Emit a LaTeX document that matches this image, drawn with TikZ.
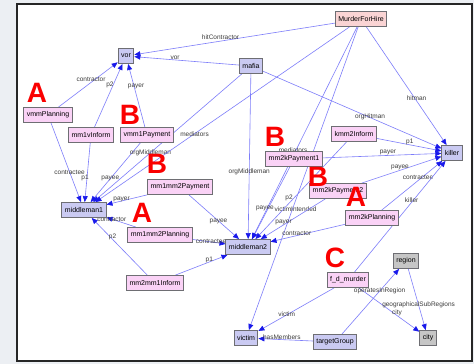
\documentclass[tikz,border=0pt]{standalone}
\usepackage{fontspec}
\setmainfont{Liberation Sans}
\usetikzlibrary{arrows.meta, backgrounds}

\definecolor{clsfill}{RGB}{202,202,242}
\definecolor{instfill}{RGB}{250,210,246}
\definecolor{topfill}{RGB}{250,212,212}
\definecolor{grayfill}{RGB}{198,198,198}
\definecolor{boxline}{RGB}{110,110,115}
\definecolor{edgeblue}{RGB}{125,125,250}
\definecolor{tipblue}{RGB}{25,25,235}
\definecolor{lbltext}{RGB}{60,60,60}
\definecolor{outside}{RGB}{236,239,243}
\definecolor{tagred}{RGB}{250,0,0}

\tikzset{
  box/.style={draw=boxline, line width=0.9pt, font=\fontsize{7}{8}\selectfont,
    minimum height=15pt, inner xsep=3pt, inner ysep=1pt},
  cls/.style={box, fill=clsfill},
  inst/.style={box, fill=instfill},
  topbox/.style={box, fill=topfill},
  grbox/.style={box, fill=grayfill},
  link/.style={draw=edgeblue, line width=0.6pt,
    -{Triangle[length=6pt,width=5pt,color=tipblue]}},
  lbl/.style={font=\fontsize{6.5}{7}\selectfont, text=lbltext, inner sep=0.5pt},
  tagletter/.style={font=\fontsize{28}{28}\selectfont\bfseries, text=tagred, inner sep=0pt}
}

\begin{document}
\begin{tikzpicture}[x=1pt, y=-1pt]
	\useasboundingbox (0,0) rectangle (474,364);
	% classes and instances
	\node[topbox] (MFH) at (361,19) {MurderForHire};
	\node[cls] (vor) at (126,56) {vor};
	\node[cls] (mafia) at (251,66) {mafia};
	\node[inst] (vmmPlan) at (48,115) {vmmPlanning};
	\node[inst] (mm1vInf) at (91,135) {mm1vInform};
	\node[inst] (vmm1Pay) at (147,135) {vmm1Payment};
	\node[cls] (mm1) at (84,210) {middleman1};
	\node[inst] (mm12Pay) at (180,187) {mm1mm2Payment};
	\node[inst] (mm12Plan) at (160,235) {mm1mm2Planning};
	\node[cls] (mm2) at (248,247) {middleman2};
	\node[inst] (mm21Inf) at (155,283) {mm2mm1Inform};
	\node[inst] (kmm2Inf) at (354,134) {kmm2Inform};
	\node[inst] (mm2kPay1) at (294,159) {mm2kPayment1};
	\node[inst] (mm2kPay2) at (338,191) {mm2kPayment2};
	\node[inst] (mm2kPlan) at (372,218) {mm2kPlanning};
	\node[cls] (killer) at (452,153) {killer};
	\node[inst] (fdm) at (348,280) {f\_d\_murder};
	\node[grbox] (region) at (406,261) {region};
	\node[grbox] (city) at (428,338) {city};
	\node[cls] (victim) at (246,338) {victim};
	\node[cls] (tgroup) at (335,342) {targetGroup};
	% frame and properties behind the boxes
	\begin{scope}[on background layer]
		\fill[outside] (0,0) rectangle (474,364);
		\draw[line width=2pt, black!85, fill=white] (17,4) rectangle (472,361);
		\foreach \a/\b/\l/\p/\xs/\ys in {
			MFH/vor/hitContractor/.57/0/4, mafia/vor/vor/.61/0/2,
			vmmPlan/vor/contractor/.60/-3/1, mm1vInf/vor/p2/.66/-3/0,
			vmm1Pay/vor/payer/.645/2/0,
			vmmPlan/mm1/contractee/.62/0/0, mm1vInf/mm1/p1/.59/-2/0,
			vmm1Pay/mm1/payee/.605/0/0, mafia/mm1/orgMiddleman/.615/0/0,
			MFH/mm1/mediators/.61/0/0, mm12Pay/mm1/payer/.63/0/2,
			mm12Plan/mm1/contractor/.82/0/0, mm21Inf/mm1/p2/.66/2/0,
			mm12Pay/mm2/payee/.59/0/0, mm12Plan/mm2/contractee/.56/0/1,
			mm21Inf/mm2/p1/.65/0/2, mafia/mm2/orgMiddleman/.59/0/0,
			MFH/mm2/mediators/.58/-3/0, MFH/victim/victimIntended/.6/3/0,
			mm2kPay1/mm2/payee/.58/-3/0, kmm2Inf/mm2/p2/.576/-5/0,
			mm2kPay2/mm2/payer/.646/0/2, mm2kPlan/mm2/contractor/.65/0/2,
			MFH/killer/hitman/.6/2/0, mafia/killer/orgHitman/.6/0/1,
			kmm2Inf/killer/p1/.51/0/3, mm2kPay1/killer/payer/.55/0/3,
			mm2kPay2/killer/payee/.48/0/3, mm2kPlan/killer/contractee/.6/0/3,
			fdm/killer/killer/.65/-2/0, fdm/victim/victim/.625/0/1,
			fdm/city/city/.63/0/3, tgroup/region/operatesInRegion/.66/0/0,
			region/city/geographicalSubRegions/.59/0/0,
			tgroup/victim/hasMembers/.57/0/2}
			\draw[link] (\a) -- node[lbl, pos=\p, xshift=\xs pt, yshift=\ys pt] {\l} (\b);
	\end{scope}
	% red pattern letters
	\foreach \t/\x/\y/\n in {A/37/93/tagA1, B/130/115/tagB1, B/157/164/tagB2,
		A/142/213/tagA2, B/275/137/tagB3, B/318/177/tagB4, A/356/197/tagA3, C/335/258/tagC}
		\node[tagletter] (\n) at (\x,\y) {\t};
\end{tikzpicture}
\end{document}
